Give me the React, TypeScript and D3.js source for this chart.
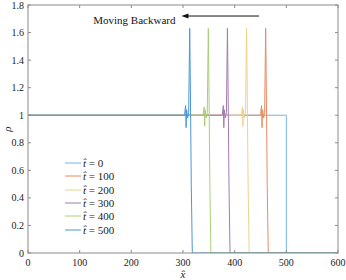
import React from "react";
import * as d3 from "d3";

const W = 346;
const H = 280;
const margin = { left: 28, right: 8, top: 5, bottom: 27 };

const xTicks = [0, 100, 200, 300, 400, 500, 600];
const yTicks = [0, 0.2, 0.4, 0.6, 0.8, 1, 1.2, 1.4, 1.6, 1.8];

const labels = ["t0", "t100", "t200", "t300", "t400", "t500"];
const legendValues = ["0", "100", "200", "300", "400", "500"];
const colors = ["#74b6e4", "#ea8a62", "#f3d189", "#a47ab2", "#a9d074", "#4b97dc"];

const x_t0 = [0, 500, 500, 600];
const y_t0 = [1, 1, 0, 0];

const x_t100 = [0, 450, 452, 453, 454, 456, 458, 460, 461, 463, 465, 600];
const y_t100 = [1, 1, 1.07, 0.91, 1.04, 0.98, 1.02, 1.63, 1.3, 0.5, 0, 0];

const x_t200 = [0, 413, 415, 416, 417, 419, 421, 423, 424, 426, 428, 600];
const y_t200 = [1, 1, 1.06, 0.92, 1.04, 0.98, 1.02, 1.63, 1.3, 0.5, 0, 0];

const x_t300 = [0, 376, 378, 379, 380, 382, 384, 386, 387, 389, 391, 600];
const y_t300 = [1, 1, 1.07, 0.91, 1.04, 0.98, 1.02, 1.63, 1.3, 0.5, 0, 0];

const x_t400 = [0, 339, 341, 342, 343, 345, 347, 349, 350, 352, 354, 600];
const y_t400 = [1, 1, 1.06, 0.92, 1.04, 0.98, 1.02, 1.63, 1.3, 0.5, 0, 0];

const x_t500 = [0, 303, 305, 306, 307, 309, 311, 313, 314, 316, 318, 600];
const y_t500 = [1, 1, 1.07, 0.91, 1.04, 0.98, 1.02, 1.63, 1.3, 0.5, 0, 0];

const seriesX = [x_t0, x_t100, x_t200, x_t300, x_t400, x_t500];
const seriesY = [y_t0, y_t100, y_t200, y_t300, y_t400, y_t500];

const arrowFrom = [447, 1.72];
const arrowTo = [297, 1.72];

const font = "'Liberation Serif', 'Times New Roman', serif";
const axisColor = "#8c8c8c";

export default function App() {
  const x = d3.scaleLinear().domain([0, 600]).range([margin.left, W - margin.right]);
  const y = d3.scaleLinear().domain([0, 1.8]).range([H - margin.bottom, margin.top]);
  const line = d3
    .line<[number, number]>()
    .x((d) => x(d[0]))
    .y((d) => y(d[1]));

  const x0 = x(0), x1 = x(600), y0 = y(0), y1 = y(1.8);
  const tl = 3;

  return (
    <div>
      <style>{"body{margin:0}"}</style>
      <svg width={W} height={H} style={{ display: "block", background: "#fff" }} fontFamily={font}>
        <defs>
          <clipPath id="plotclip">
            <rect x={x0} y={y1} width={x1 - x0} height={y0 - y1} />
          </clipPath>
        </defs>
        {/* series */}
        <g clipPath="url(#plotclip)">
          {seriesX.map((xs, i) => (
            <path
              key={labels[i]}
              d={line(xs.map((v, j) => [v, seriesY[i][j]] as [number, number])) || ""}
              fill="none"
              stroke={colors[i]}
              strokeWidth={1}
            />
          ))}
        </g>
        {/* axes box */}
        <rect x={x0} y={y1} width={x1 - x0} height={y0 - y1} fill="none" stroke={axisColor} strokeWidth={1} />
        {xTicks.map((t) => (
          <g key={"xt" + t}>
            <line x1={x(t)} x2={x(t)} y1={y0} y2={y0 - tl} stroke={axisColor} />
            <line x1={x(t)} x2={x(t)} y1={y1} y2={y1 + tl} stroke={axisColor} />
            <text x={x(t)} y={y0 + 13} fontSize={10} textAnchor="middle" fill="#222">
              {t}
            </text>
          </g>
        ))}
        {yTicks.map((t) => (
          <g key={"yt" + t}>
            <line x1={x0} x2={x0 + tl} y1={y(t)} y2={y(t)} stroke={axisColor} />
            <line x1={x1} x2={x1 - tl} y1={y(t)} y2={y(t)} stroke={axisColor} />
            <text x={x0 - 4} y={y(t) + 3.5} fontSize={10} textAnchor="end" fill="#222">
              {t}
            </text>
          </g>
        ))}
        {/* axis labels */}
        <text x={(x0 + x1) / 2} y={H - 2} fontSize={11} fontStyle="italic" textAnchor="middle" fill="#222">
          {"x\u0302"}
        </text>
        <text transform={`translate(11,${(y0 + y1) / 2}) rotate(-90)`} fontSize={11} fontStyle="italic" textAnchor="middle" fill="#222">
          ρ
        </text>
        {/* annotation */}
        <text x={x(arrowTo[0]) - 6} y={y(arrowFrom[1]) + 8} fontSize={11} textAnchor="end" fill="#111">
          Moving Backward
        </text>
        <line
          x1={x(arrowFrom[0])}
          y1={y(arrowFrom[1])}
          x2={x(arrowTo[0]) + 5}
          y2={y(arrowTo[1])}
          stroke="#111"
          strokeWidth={1}
        />
        <path d={`M${x(arrowTo[0])},${y(arrowTo[1])} l7,-2.5 l0,5 z`} fill="#111" />
        {/* legend */}
        {labels.map((l, i) => {
          const ly = Math.round(163 + i * 13.3);
          return (
            <g key={"lg" + l}>
              <line x1={65} x2={81} y1={ly} y2={ly} stroke={colors[i]} strokeWidth={1} />
              <text x={83} y={ly + 4} fontSize={11} fill="#222">
                <tspan fontStyle="italic">{"t\u0302"}</tspan>
                <tspan>{" = " + legendValues[i]}</tspan>
              </text>
            </g>
          );
        })}
      </svg>
    </div>
  );
}
